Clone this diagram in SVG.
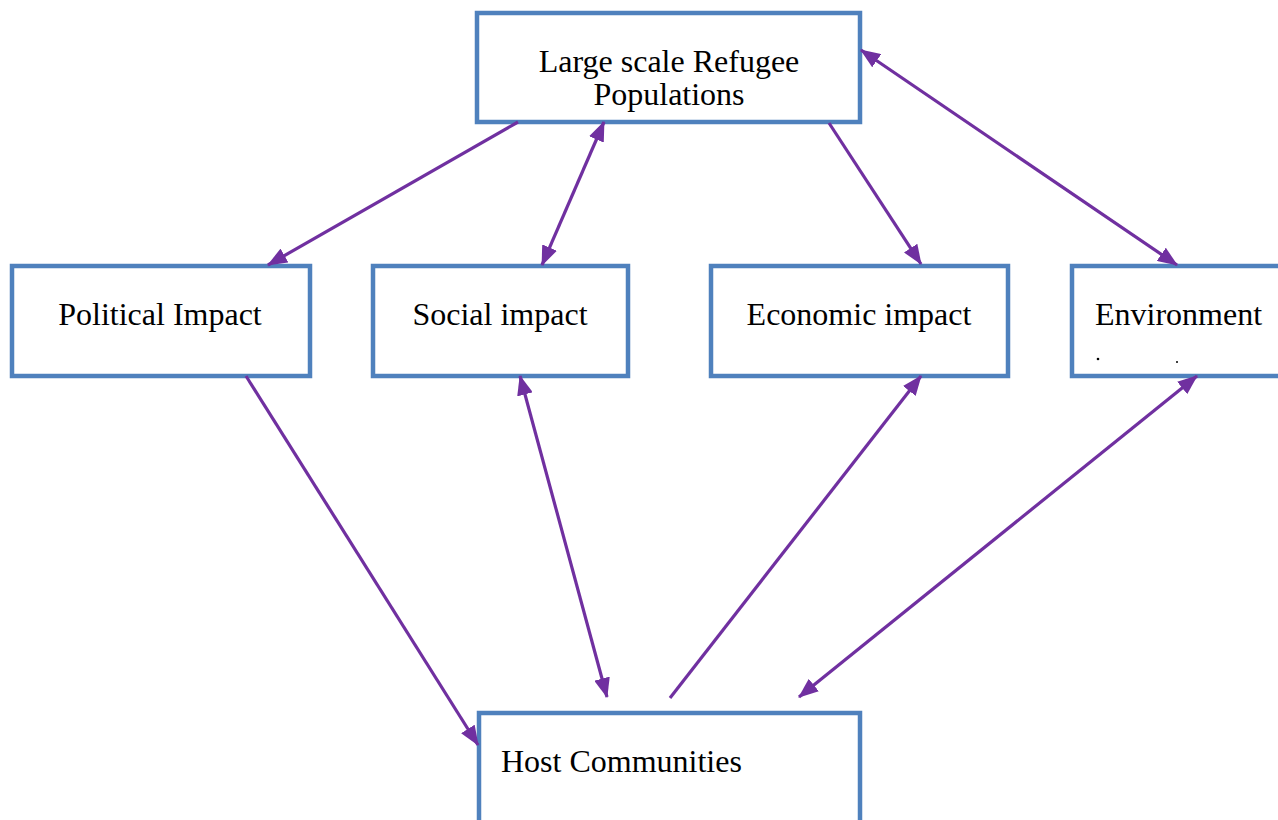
<svg xmlns="http://www.w3.org/2000/svg" width="1278" height="820" viewBox="0 0 1278 820">
<style>
.box{fill:#fff;stroke:#4F81BD;stroke-width:4.5}
.t{font-family:"Liberation Serif","Times New Roman",serif;font-size:32px;fill:#000}
.c{stroke:#7030A0;stroke-width:3.2;fill:none}
</style>
<defs>
<marker id="ah" markerUnits="userSpaceOnUse" markerWidth="20" markerHeight="16" viewBox="0 0 20 16" refX="19" refY="8" orient="auto-start-reverse">
<path d="M0,0 L20,8 L0,16 Z" fill="#7030A0"/>
</marker>
</defs>
<rect width="1278" height="820" fill="#fff"/>
<g id="node-top">
<rect class="box" x="477" y="13" width="383" height="109"/>
<text class="t" x="669" y="72" text-anchor="middle">Large scale Refugee</text>
<text class="t" x="669" y="105" text-anchor="middle">Populations</text>
</g>
<g id="node-political">
<rect class="box" x="12" y="266" width="298" height="110"/>
<text class="t" x="160" y="325" text-anchor="middle">Political Impact</text>
</g>
<g id="node-social">
<rect class="box" x="373" y="266" width="255" height="110"/>
<text class="t" x="500" y="325" text-anchor="middle">Social impact</text>
</g>
<g id="node-economic">
<rect class="box" x="711" y="266" width="297" height="110"/>
<text class="t" x="859" y="325" text-anchor="middle">Economic impact</text>
</g>
<g id="node-environment">
<rect class="box" x="1072" y="266" width="220" height="110"/>
<text class="t" x="1095" y="325">Environment</text>
<circle cx="1098" cy="359" r="1.3" fill="#000"/>
<circle cx="1177" cy="362" r="1" fill="#000"/>
</g>
<g id="node-host">
<rect class="box" x="479" y="713" width="381" height="120"/>
<text class="t" x="501" y="772">Host Communities</text>
</g>
<g id="connectors">
<line class="c" x1="518" y1="122" x2="268" y2="265" marker-end="url(#ah)"/>
<line class="c" x1="604" y1="122" x2="542" y2="265" marker-start="url(#ah)" marker-end="url(#ah)"/>
<line class="c" x1="829" y1="123" x2="921" y2="264" marker-end="url(#ah)"/>
<line class="c" x1="861" y1="50" x2="1177" y2="265" marker-start="url(#ah)" marker-end="url(#ah)"/>
<line class="c" x1="246" y1="376" x2="478" y2="745" marker-end="url(#ah)"/>
<line class="c" x1="520" y1="376" x2="607" y2="697" marker-start="url(#ah)" marker-end="url(#ah)"/>
<line class="c" x1="670" y1="698" x2="921" y2="376" marker-end="url(#ah)"/>
<line class="c" x1="1197" y1="376" x2="799" y2="697" marker-start="url(#ah)" marker-end="url(#ah)"/>
</g>
</svg>
